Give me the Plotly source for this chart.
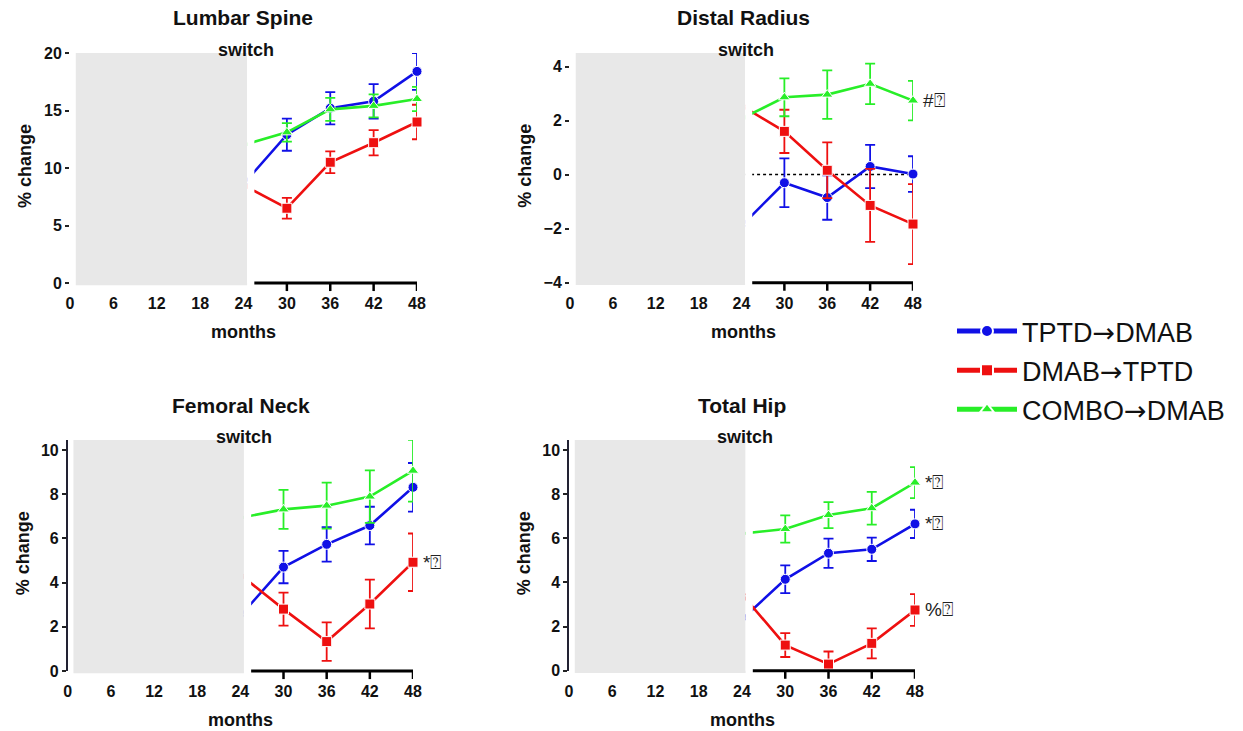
import plotly.graph_objects as go

W, H = 1243, 731

months = [24, 30, 36, 42, 48]
x_ticks = [0, 6, 12, 18, 24, 30, 36, 42, 48]
visible_ticks = [30, 36, 42, 48]
ARROW = "<span style='font-family:DejaVu Sans'>\u2192</span>"
series_names = ["TPTD" + ARROW + "DMAB", "DMAB" + ARROW + "TPTD", "COMBO" + ARROW + "DMAB"]

# Lumbar Spine
ls_tptd = [8.6, 12.9, 15.2, 15.8, 18.4]
ls_tptd_err = [None, 1.4, 1.4, 1.5, 1.6]
ls_dmab = [8.5, 6.5, 10.5, 12.2, 14.0]
ls_dmab_err = [None, 0.9, 0.95, 1.1, 1.5]
ls_combo = [12.0, 13.1, 15.1, 15.4, 16.0]
ls_combo_err = [None, 0.8, 1.0, 1.0, 1.05]

# Distal Radius
dr_tptd = [-1.9, -0.3, -0.85, 0.3, 0.02]
dr_tptd_err = [None, 0.9, 0.82, 0.8, 0.66]
dr_dmab = [2.55, 1.6, 0.16, -1.14, -1.83]
dr_dmab_err = [None, 0.8, 1.03, 1.35, 1.48]
dr_combo = [2.07, 2.86, 2.96, 3.36, 2.74]
dr_combo_err = [None, 0.7, 0.9, 0.75, 0.73]

# Femoral Neck
fn_tptd = [2.5, 4.7, 5.73, 6.58, 8.31]
fn_tptd_err = [None, 0.73, 0.78, 0.85, 1.1]
fn_dmab = [4.35, 2.8, 1.33, 3.03, 4.92]
fn_dmab_err = [None, 0.75, 0.87, 1.1, 1.3]
fn_combo = [6.93, 7.31, 7.48, 7.89, 9.06]
fn_combo_err = [None, 0.88, 1.04, 1.19, 1.4]

# Total Hip
th_tptd = [2.33, 4.14, 5.32, 5.5, 6.65]
th_tptd_err = [None, 0.63, 0.66, 0.53, 0.64]
th_dmab = [3.46, 1.16, 0.3, 1.24, 2.75]
th_dmab_err = [None, 0.54, 0.57, 0.68, 0.72]
th_combo = [6.21, 6.42, 7.05, 7.36, 8.52]
th_combo_err = [None, 0.62, 0.59, 0.74, 0.7]

colors = ["#1010e6", "#ee1010", "#28ee28"]
symbols = ["circle", "square", "triangle-up"]
marker_sizes = [0, 10, 10, 10, 10]
FONT = "Arial, Liberation Sans, sans-serif"

panels = [
    dict(title="Lumbar Spine", data=[(ls_tptd, ls_tptd_err), (ls_dmab, ls_dmab_err), (ls_combo, ls_combo_err)],
         px=(70, 417), py=(53, 283), yr=(0, 20), yt=[0, 5, 10, 15, 20], yline=False,
         notes=[]),
    dict(title="Distal Radius", data=[(dr_tptd, dr_tptd_err), (dr_dmab, dr_dmab_err), (dr_combo, dr_combo_err)],
         px=(570, 913), py=(53, 282.7), yr=(-4, 4.5), yt=[-4, -2, 0, 2, 4], yline=False,
         notes=[("#\u2370", 2)]),
    dict(title="Femoral Neck", data=[(fn_tptd, fn_tptd_err), (fn_dmab, fn_dmab_err), (fn_combo, fn_combo_err)],
         px=(67.7, 413), py=(440, 671), yr=(0, 10.45), yt=[0, 2, 4, 6, 8, 10], yline=True,
         notes=[("*\u2370", 1)]),
    dict(title="Total Hip", data=[(th_tptd, th_tptd_err), (th_dmab, th_dmab_err), (th_combo, th_combo_err)],
         px=(569, 915), py=(440, 670.7), yr=(0, 10.45), yt=[0, 2, 4, 6, 8, 10], yline=True,
         notes=[("*\u2370", 2), ("*\u2370", 0), ("%\u2370", 1)]),
]

fig = go.Figure()
shapes = []
annotations = []


def ann(text, xpx, ypx, size, angle=0):
    return dict(text=text, xref="paper", yref="paper", x=xpx / W, y=1 - ypx / H,
                xanchor="center", yanchor="middle", showarrow=False, textangle=angle,
                font=dict(family=FONT, size=size, color="#111"))


for i, p in enumerate(panels):
    n = "" if i == 0 else str(i + 1)
    xa, ya = "x" + n, "y" + n
    xdom = [p["px"][0] / W, p["px"][1] / W]
    ydom = [1 - p["py"][1] / H, 1 - p["py"][0] / H]
    for k, (vals, errs) in enumerate(p["data"]):
        fig.add_trace(go.Scatter(
            x=months, y=vals, mode="lines+markers", name=series_names[k],
            showlegend=(i == 0), legendgroup=str(k),
            line=dict(color=colors[k], width=2.6),
            marker=dict(color=colors[k], symbol=symbols[k], size=marker_sizes, opacity=1),
            error_y=dict(type="data", array=errs, color=colors[k], thickness=1.8, width=5),
            xaxis=xa, yaxis=ya, cliponaxis=False,
        ))
    fig.layout["xaxis" + n] = dict(
        domain=xdom, range=[0, 48], anchor=ya, tickvals=x_ticks, ticks="outside",
        ticklen=6, tickcolor="rgba(0,0,0,0)", showgrid=False, zeroline=False, showline=False,
        automargin=False,
        tickfont=dict(family=FONT, size=16, color="#111", weight="bold"),
    )
    fig.layout["yaxis" + n] = dict(
        domain=ydom, range=list(p["yr"]), anchor=xa, tickvals=p["yt"], ticks="outside",
        ticklen=4, tickwidth=2, tickcolor="#222", showgrid=False, zeroline=False,
        showline=p["yline"], linecolor="#223", linewidth=1.5, automargin=False,
        tickfont=dict(family=FONT, size=16, color="#111", weight="bold"),
    )
    # masking boxes
    shapes.append(dict(type="rect", xref=xa, yref=ya + " domain", x0=0.8, x1=24.5, y0=-0.01, y1=1,
                       fillcolor="#e8e8e8", line=dict(width=0), layer="above"))
    shapes.append(dict(type="rect", xref=xa, yref=ya + " domain", x0=24.5, x1=25.5, y0=0, y1=1,
                       fillcolor="white", line=dict(width=0), layer="above"))
    # x axis line and ticks
    shapes.append(dict(type="line", xref=xa, yref=ya + " domain", x0=25.5, x1=48, y0=0, y1=0,
                       line=dict(color="black", width=3), layer="above"))
    for m in visible_ticks:
        shapes.append(dict(type="line", xref=xa, yref=ya + " domain", x0=m, x1=m, y0=0, y1=-0.035,
                           line=dict(color="black", width=2.5), layer="above"))
    if i == 1:
        shapes.append(dict(type="line", xref=xa, yref=ya, x0=24.5, x1=48, y0=0, y1=0,
                           line=dict(color="black", width=1.5, dash="dot"), layer="below"))
    top, bot, left = p["py"][0], p["py"][1], p["px"][0]
    annotations.append(ann("<b>" + p["title"] + "</b>", left + 173, top - 35, 21))
    annotations.append(ann("<b>switch</b>", left + 176, top - 3, 18))
    annotations.append(ann("<b>% change</b>", left - 45, top + (bot - top) / 2 - 2, 18, -90))
    annotations.append(ann("<b>months</b>", left + 173, bot + 49, 18))
    for txt, k in p["notes"]:
        annotations.append(dict(text=txt, xref=xa, yref=ya, x=48, y=p["data"][k][0][-1],
                                xanchor="left", yanchor="middle", xshift=8, showarrow=False,
                                font=dict(family=FONT, size=19, color="#222")))

fig.update_layout(
    width=W, height=H, margin=dict(l=0, r=0, t=0, b=0, pad=0),
    paper_bgcolor="white", plot_bgcolor="white",
    shapes=shapes, annotations=annotations,
    legend=dict(x=952 / W, y=1 - 307 / H, xanchor="left", yanchor="top",
                font=dict(family=FONT, size=27, color="#111"), itemwidth=60,
                itemsizing="constant", tracegroupgap=1, bgcolor="rgba(0,0,0,0)"),
)

fig.write_html("out.html", config={"displayModeBar": False},
               post_script="document.body.style.margin='0px';document.body.style.padding='0px';")
